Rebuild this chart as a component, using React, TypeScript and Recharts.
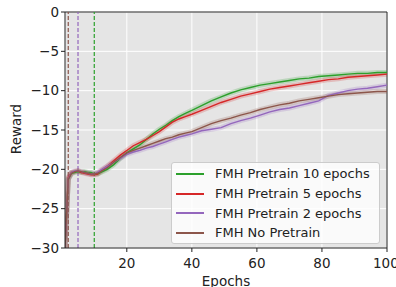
import React from "react"
import { ComposedChart, Line, XAxis, YAxis, CartesianGrid, ReferenceLine } from "recharts"

const epochs = [1, 2, 3, 4, 5, 6, 7, 8, 9, 10, 11, 12, 14, 16, 18, 20, 22, 24, 26, 28, 30, 32, 34, 36, 38, 40, 43, 46, 49, 52, 55, 58, 61, 64, 67, 70, 73, 76, 79, 82, 85, 88, 91, 94, 97, 100]

const pre10 = [-30, -21.2, -20.5, -20.4, -20.3, -20.4, -20.3, -20.4, -20.4, -20.6, -20.6, -20.4, -20.0, -19.4, -18.6, -17.9, -17.4, -16.9, -16.2, -15.5, -14.9, -14.4, -13.8, -13.3, -12.9, -12.5, -11.9, -11.3, -10.8, -10.3, -9.9, -9.6, -9.3, -9.1, -8.9, -8.7, -8.5, -8.4, -8.2, -8.1, -8.0, -7.9, -7.8, -7.8, -7.7, -7.7]
const pre5 = [-30, -21.0, -20.4, -20.3, -20.2, -20.4, -20.5, -20.6, -20.7, -20.7, -20.6, -20.2, -19.6, -18.9, -18.2, -17.6, -17.0, -16.6, -16.2, -15.7, -15.2, -14.6, -14.0, -13.6, -13.3, -13.0, -12.5, -12.0, -11.5, -11.1, -10.7, -10.4, -10.1, -9.8, -9.6, -9.4, -9.2, -9.0, -8.8, -8.6, -8.5, -8.3, -8.2, -8.1, -8.0, -7.9]
const pre2 = [-30, -21.2, -20.4, -20.2, -20.2, -20.3, -20.4, -20.5, -20.6, -20.6, -20.4, -20.1, -19.6, -19.1, -18.6, -18.1, -17.8, -17.6, -17.3, -17.1, -16.8, -16.5, -16.2, -15.9, -15.7, -15.5, -15.1, -14.9, -14.7, -14.2, -13.8, -13.5, -13.1, -12.7, -12.4, -12.2, -11.9, -11.6, -11.3, -10.6, -10.3, -10.0, -9.8, -9.7, -9.5, -9.3]
const noPre = [-30, -21.3, -20.5, -20.3, -20.2, -20.3, -20.4, -20.5, -20.6, -20.6, -20.5, -20.3, -19.8, -19.1, -18.5, -17.9, -17.6, -17.3, -17.0, -16.7, -16.4, -16.1, -15.9, -15.6, -15.4, -15.2, -14.7, -14.2, -13.8, -13.5, -13.1, -12.8, -12.4, -12.1, -11.8, -11.6, -11.3, -11.1, -10.9, -10.7, -10.5, -10.4, -10.3, -10.2, -10.1, -10.1]

const xTicks = [20, 40, 60, 80, 100]
const yTicks = [-30, -25, -20, -15, -10, -5, 0]

const series = [
  { key: "pre10", name: "FMH Pretrain 10 epochs", color: "#2ca02c" },
  { key: "pre5", name: "FMH Pretrain 5 epochs", color: "#d62728" },
  { key: "pre2", name: "FMH Pretrain 2 epochs", color: "#9467bd" },
  { key: "noPre", name: "FMH No Pretrain", color: "#8c564b" },
]

const data = epochs.map((e, i) => ({
  epoch: e,
  pre10: pre10[i],
  pre5: pre5[i],
  pre2: pre2[i],
  noPre: noPre[i],
}))

const FONT = "DejaVu Sans, sans-serif"
const fmt = (v: number) => String(v).replace("-", "\u2212")

function LegendBox() {
  return (
    <div
      style={{
        position: "absolute",
        left: 171,
        top: 162,
        width: 209,
        height: 82,
        boxSizing: "border-box",
        background: "rgba(255,255,255,0.8)",
        border: "1px solid #cccccc",
        borderRadius: 3,
        padding: "1px 0 0 4px",
        fontFamily: FONT,
        fontSize: 13,
        color: "#222",
      }}
    >
      {series.map((s) => (
        <div key={s.key} style={{ display: "flex", alignItems: "center", height: 19.7 }}>
          <div style={{ width: 28, height: 2, background: s.color, marginRight: 11 }} />
          <span style={{ whiteSpace: "nowrap" }}>{s.name}</span>
        </div>
      ))}
    </div>
  )
}

export default function App() {
  return (
    <div style={{ position: "absolute", left: 0, top: 0, width: 396, height: 287 }}>
      <ComposedChart width={396} height={287} data={data} margin={{ top: 12, right: 9, bottom: 9, left: 0 }}>
        <CartesianGrid stroke="#ffffff" fill="#e5e5e5" strokeWidth={1} />
        <XAxis
          dataKey="epoch"
          type="number"
          domain={[1, 100]}
          ticks={xTicks}
          height={30}
          allowDataOverflow
          stroke="#222"
          tick={{ fill: "#222", fontSize: 13.5, fontFamily: FONT, dy: 4 }}
          tickSize={4}
          label={{
            value: "Epochs",
            content: () => (
              <text x={226} y={286} textAnchor="middle" fontFamily={FONT} fontSize={13.5} fill="#222">
                Epochs
              </text>
            ),
          }}
        />
        <YAxis
          type="number"
          domain={[-30, 0]}
          ticks={yTicks}
          width={65}
          stroke="#222"
          tick={{ fill: "#222", fontSize: 13.5, fontFamily: FONT }}
          tickSize={4}
          tickFormatter={fmt}
          label={{
            value: "Reward",
            content: () => (
              <text x={21} y={129} transform="rotate(-90 21 129)" textAnchor="middle" fontFamily={FONT} fontSize={13.5} fill="#222">
                Reward
              </text>
            ),
          }}
        />
        <ReferenceLine y={0} stroke="#222" />
        <ReferenceLine x={100} stroke="#222" />
        <ReferenceLine x={2} stroke="#8c564b" strokeDasharray="4 2" strokeWidth={1.2} />
        <ReferenceLine x={5} stroke="#9467bd" strokeDasharray="4 2" strokeWidth={1.2} />
        <ReferenceLine x={10} stroke="#2ca02c" strokeDasharray="4 2" strokeWidth={1.2} />
        {series.map((s) => (
          <Line
            key={s.key + "-band"}
            dataKey={s.key}
            stroke={s.color}
            strokeOpacity={0.22}
            strokeWidth={5}
            dot={false}
            type="linear"
            isAnimationActive={false}
            legendType="none"
          />
        ))}
        {series.map((s) => (
          <Line
            key={s.key}
            dataKey={s.key}
            name={s.name}
            stroke={s.color}
            strokeWidth={1.4}
            dot={false}
            type="linear"
            isAnimationActive={false}
          />
        ))}
      </ComposedChart>
      <LegendBox />
    </div>
  )
}
